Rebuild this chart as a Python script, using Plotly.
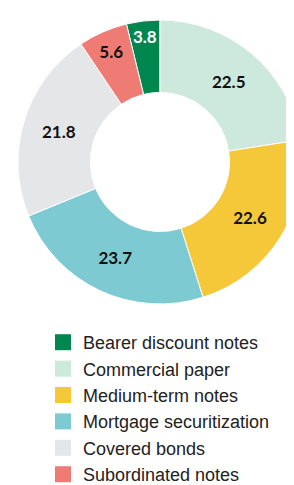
import plotly.graph_objects as go

labels = ["Bearer discount notes", "Commercial paper", "Medium-term notes",
          "Mortgage securitization", "Covered bonds", "Subordinated notes"]
values = [3.8, 22.5, 22.6, 23.7, 21.8, 5.6]
colors = ["#00874f", "#cde8dc", "#f5c83a", "#7ecad2", "#e5e6e8", "#ee7b74"]
text_colors = ["#ffffff", "#111111", "#111111", "#111111", "#111111", "#111111"]

W, H = 294, 485
cx, cy, R = 152, 154, 142

fig = go.Figure()
fig.add_trace(go.Pie(
    labels=labels,
    values=values,
    sort=False,
    direction="clockwise",
    rotation=-values[0] / sum(values) * 360,
    hole=0.49,
    marker=dict(colors=colors, line=dict(color="#ffffff", width=1)),
    texttemplate="%{value:.1f}",
    textposition="inside",
    insidetextorientation="horizontal",
    textfont=dict(family="Lato", size=17, color=text_colors, weight="bold"),
    domain=dict(x=[(cx - R) / W, (cx + R) / W], y=[1 - (cy + R) / H, 1 - (cy - R) / H]),
    showlegend=False,
    hoverinfo="label+value",
))

for lab, col in zip(labels, colors):
    fig.add_trace(go.Scatter(
        x=[None], y=[None], mode="markers", name=lab,
        marker=dict(symbol="square", size=18, color=col),
        showlegend=True, hoverinfo="skip",
    ))

fig.update_layout(
    width=W, height=H,
    margin=dict(l=0, r=0, t=0, b=0),
    paper_bgcolor="white",
    plot_bgcolor="white",
    xaxis=dict(visible=False),
    yaxis=dict(visible=False),
    uniformtext=dict(minsize=17, mode="show"),
    legend=dict(
        x=35 / W, y=0, xanchor="left", yanchor="bottom",
        font=dict(family="Liberation Sans, Arial", size=18, color="#222222"),
        traceorder="normal",
        bgcolor="rgba(0,0,0,0)",
    ),
)

fig.write_html("out.html", config={"displayModeBar": False})
